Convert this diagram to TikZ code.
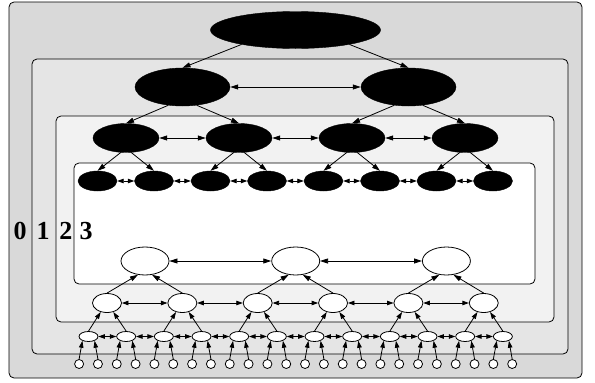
\documentclass[tikz,border=0pt]{standalone}
\usepackage{fontspec}
\setmainfont{Liberation Serif}
\usetikzlibrary{arrows.meta,shapes.geometric}

\tikzset{
  lvl/.style={draw=black, line width=0.8pt, rounded corners=5pt},
  blk/.style={ellipse, fill=black, draw=black, inner sep=0pt},
  wht/.style={ellipse, fill=white, draw=black, line width=0.8pt, inner sep=0pt},
  dn/.style={line width=0.8pt, -{Triangle[length=8pt,width=5pt]}},
  lr/.style={line width=0.8pt, {Triangle[length=8pt,width=5pt]}-{Triangle[length=8pt,width=5pt]}},
  dnsm/.style={line width=0.8pt, -{Triangle[length=7pt,width=4.5pt]}},
  lrsm/.style={line width=0.8pt, {Triangle[length=6.5pt,width=4.5pt]}-{Triangle[length=6.5pt,width=4.5pt]}},
  num/.style={font=\bfseries\fontsize{26pt}{26pt}\selectfont, inner sep=0pt}
}

\begin{document}
\begin{tikzpicture}[x=1pt,y=-1pt]
	\useasboundingbox (0,0) rectangle (595,383);

	% nested levels
	\draw[lvl, fill=black!15] (9,2) rectangle (582,378);
	\draw[lvl, fill=black!10] (32,59) rectangle (568,354);
	\draw[lvl, fill=black!5] (56,116) rectangle (554,322);
	\draw[lvl, fill=white] (74,163) rectangle (535,284);

	\node[num] (lab0) at (20,231) {0};
	\node[num] (lab1) at (43,231) {1};
	\node[num] (lab2) at (66,231) {2};
	\node[num] (lab3) at (86,231) {3};

	% black tree, top down
	\node[blk, minimum width=170pt, minimum height=37pt] (r) at (295.5,30) {};
	\foreach \i in {1,2}
		\node[blk, minimum width=95pt, minimum height=38pt] (b1-\i) at ({182.5+(\i-1)*226},87) {};
	\foreach \i in {1,...,4}
		\node[blk, minimum width=66pt, minimum height=29pt] (b2-\i) at ({126+(\i-1)*113},138) {};
	\foreach \i in {1,...,8}
		\node[blk, minimum width=39pt, minimum height=20pt] (b3-\i) at ({97.5+(\i-1)*56.5},181) {};

	\draw[dn] (r.195) -- (b1-1.north);
	\draw[dn] (r.345) -- (b1-2.north);
	\foreach \i [evaluate=\i as \j using int(2*\i-1), evaluate=\i as \k using int(2*\i)] in {1,2} {
		\draw[dn] (b1-\i.232) -- (b2-\j.north);
		\draw[dn] (b1-\i.308) -- (b2-\k.north);
	}
	\foreach \i [evaluate=\i as \j using int(2*\i-1), evaluate=\i as \k using int(2*\i)] in {1,...,4} {
		\draw[dn] (b2-\i.250) -- (b3-\j.north);
		\draw[dn] (b2-\i.290) -- (b3-\k.north);
	}
	\draw[lr] (b1-1) -- (b1-2);
	\foreach \i [evaluate=\i as \n using int(\i+1)] in {1,...,3}
		\draw[lr] (b2-\i) -- (b2-\n);
	\foreach \i [evaluate=\i as \n using int(\i+1)] in {1,...,7}
		\draw[lrsm] (b3-\i) -- (b3-\n);

	% white tree, bottom up
	\foreach \i in {1,...,3}
		\node[wht, minimum width=48pt, minimum height=28pt] (w3-\i) at ({145+(\i-1)*150.7},261) {};
	\foreach \i in {1,...,6}
		\node[wht, minimum width=29pt, minimum height=19pt] (w2-\i) at ({107+(\i-1)*75.35},303) {};
	\foreach \i in {1,...,12}
		\node[wht, minimum width=19pt, minimum height=10pt] (w1-\i) at ({88.5+(\i-1)*37.67},336.5) {};
	\foreach \i in {1,...,24}
		\node[wht, circle, minimum size=9pt] (leaf-\i) at ({79.1+(\i-1)*18.83},364) {};

	\foreach \i [evaluate=\i as \j using int(2*\i-1), evaluate=\i as \k using int(2*\i)] in {1,...,3} {
		\draw[dn] (w2-\j.north) -- (w3-\i.243);
		\draw[dn] (w2-\k.north) -- (w3-\i.297);
	}
	\foreach \i [evaluate=\i as \j using int(2*\i-1), evaluate=\i as \k using int(2*\i)] in {1,...,6} {
		\draw[dnsm] (w1-\j.north) -- (w2-\i.235);
		\draw[dnsm] (w1-\k.north) -- (w2-\i.305);
	}
	\foreach \i [evaluate=\i as \j using int(2*\i-1), evaluate=\i as \k using int(2*\i)] in {1,...,12} {
		\draw[dnsm] (leaf-\j.north) -- (w1-\i.215);
		\draw[dnsm] (leaf-\k.north) -- (w1-\i.325);
	}
	\foreach \i [evaluate=\i as \n using int(\i+1)] in {1,2}
		\draw[lr] (w3-\i) -- (w3-\n);
	\foreach \i [evaluate=\i as \n using int(\i+1)] in {1,...,5}
		\draw[lrsm] (w2-\i) -- (w2-\n);
	\foreach \i [evaluate=\i as \n using int(\i+1)] in {1,...,11}
		\draw[lrsm] (w1-\i) -- (w1-\n);
\end{tikzpicture}
\end{document}
